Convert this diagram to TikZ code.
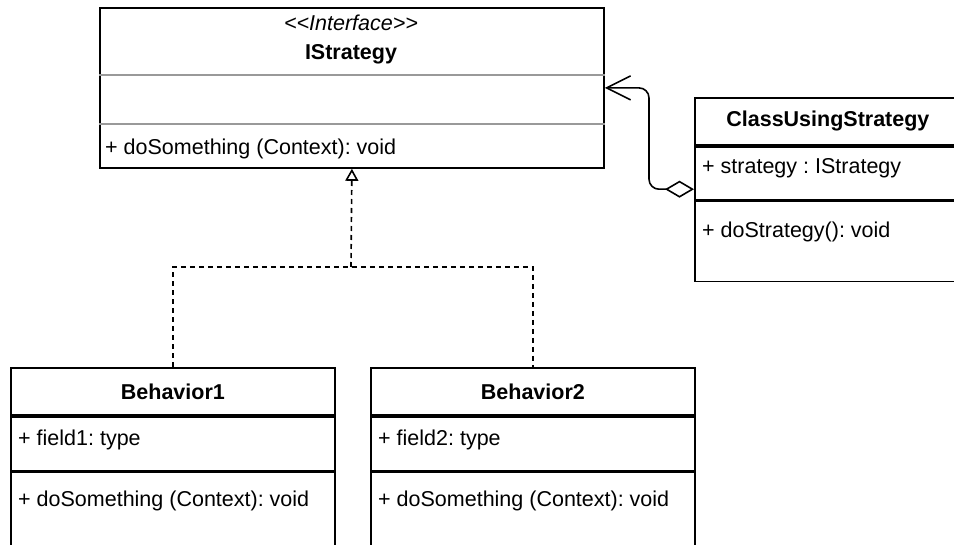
\documentclass[tikz,border=0pt]{standalone}
\usepackage{fontspec}
\setmainfont{Liberation Sans}
\usetikzlibrary{arrows.meta}
\frenchspacing

\begin{document}
\begin{tikzpicture}[x=1pt,y=-1pt,
        every node/.style={font=\fontsize{21.5}{29}\selectfont\frenchspacing},
        box/.style={draw, line width=1.8pt, inner sep=0pt, anchor=north west},
        member/.style={anchor=west, inner sep=0pt},
        sep/.style={line width=1.5pt, color=black!40},
        realize/.style={line width=1.6pt, dash pattern=on 5pt off 4pt},
        assoc/.style={line width=1.6pt, rounded corners=10pt}]
        \useasboundingbox (0,0) rectangle (954,545);
        \clip (0,0) rectangle (954,545);

        % interface
        \node[box, minimum width=504, minimum height=160] (istrat) at (99,7) {};
        \node[align=center, inner sep=0pt] (ititle) at (351,39.5) {\itshape <\kern0pt<Interface>\kern0pt>\\\textbf{IStrategy}};
        \path[draw,sep] ([yshift=-68pt]istrat.north west) -- ([yshift=-68pt]istrat.north east);
        \path[draw,sep] ([yshift=-117pt]istrat.north west) -- ([yshift=-117pt]istrat.north east);
        \node[member] (iop) at (105,149) {+ doSomething (Context): void};

        % context class
        \node[box, minimum width=266, minimum height=47] (cus) at (694,97) {\textbf{ClassUsingStrategy}};
        \node[box, minimum width=266, minimum height=53] (cusattr) at (cus.south west) {};
        \node[box, minimum width=266, minimum height=80] (cusmeth) at (cusattr.south west) {};
        \node[member] (cusfield) at (702,168) {+ strategy : IStrategy};
        \node[member] (cusop) at (702,232) {+ doStrategy(): void};

        % behaviors
        \node[box, minimum width=324, minimum height=47] (b1) at (10,367) {\textbf{Behavior1}};
        \node[box, minimum width=324, minimum height=54] (b1attr) at (b1.south west) {};
        \node[box, minimum width=324, minimum height=100] (b1meth) at (b1attr.south west) {};
        \node[member] (b1field) at (18,440) {+ field1: type};
        \node[member] (b1op) at (18,501) {+ doSomething (Context): void};

        \node[box, minimum width=324, minimum height=47] (b2) at (370,367) {\textbf{Behavior2}};
        \node[box, minimum width=324, minimum height=54] (b2attr) at (b2.south west) {};
        \node[box, minimum width=324, minimum height=100] (b2meth) at (b2attr.south west) {};
        \node[member] (b2field) at (378,440) {+ field2: type};
        \node[member] (b2op) at (378,501) {+ doSomething (Context): void};

        % realization
        \coordinate (join) at (351,267);
        \path[draw,realize] (b1.north) |- (join) -| (b2.north);
        \path[draw,realize,-{Triangle[open,length=12pt,width=13pt]}] (join) -- (istrat.south);

        % aggregation
        \coordinate (aggr) at ([yshift=-16pt]cusattr.west);
        \coordinate (bend) at (649,137);
        \path[draw,assoc,{Diamond[open,length=29pt,width=17pt]}-{Straight Barb[length=24pt,width=24pt]}] (aggr) -| (bend) |- (istrat.east);
    \end{tikzpicture}
\end{document}
